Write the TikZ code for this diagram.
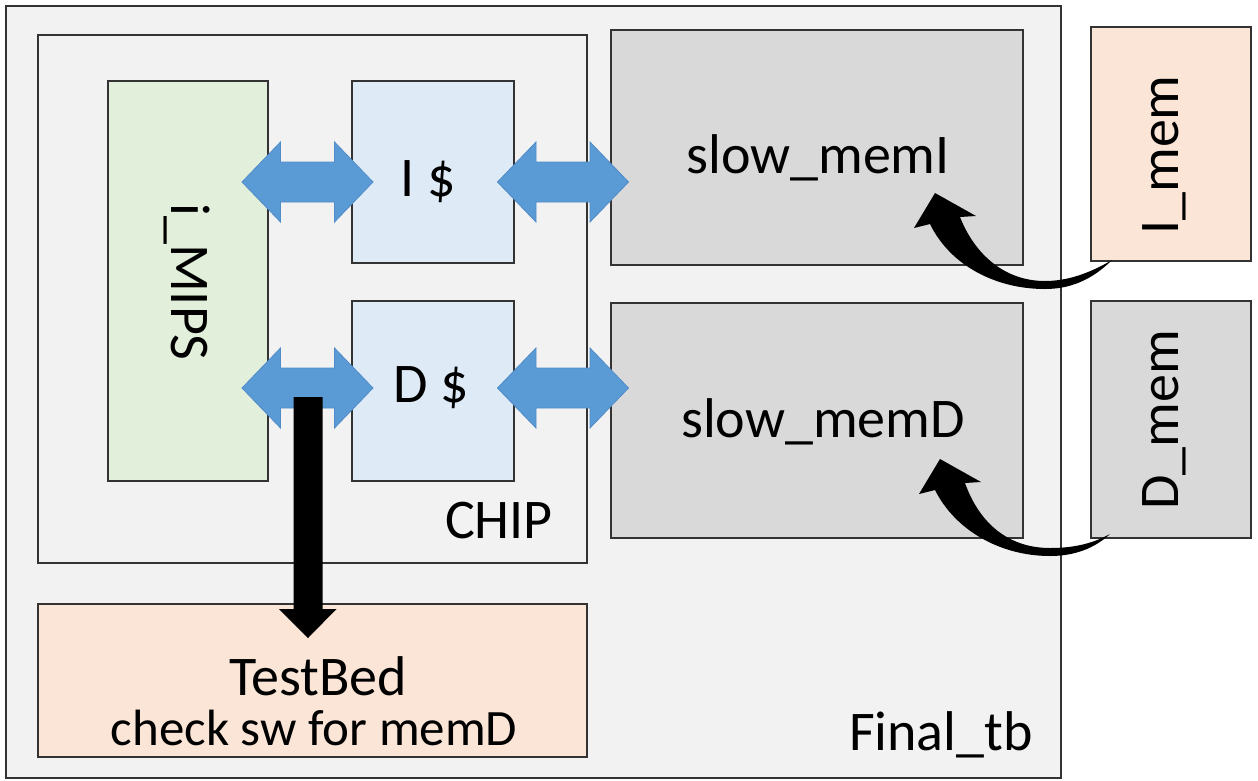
\documentclass[tikz,border=0pt]{standalone}
\usepackage{fontspec}
\setmainfont{Carlito}
\definecolor{bggray}{HTML}{F2F2F2}
\definecolor{memgray}{HTML}{D9D9D9}
\definecolor{mipsgreen}{HTML}{E2EFDA}
\definecolor{cacheblue}{HTML}{DEEBF7}
\definecolor{peach}{HTML}{FBE5D6}
\definecolor{arrowblue}{HTML}{5B9BD5}
\definecolor{arrowedge}{HTML}{4F8CC9}
\definecolor{edgegray}{HTML}{333333}
\begin{document}
\begin{tikzpicture}[x=1pt,y=-1pt,
  blk/.style={draw=edgegray, line width=2pt, inner sep=0pt, anchor=north west},
  lbl/.style={inner sep=0pt, font=\fontsize{56}{60}\selectfont},
  sublbl/.style={inner sep=0pt, font=\fontsize{51}{56}\selectfont},
  dbl/.pic={\fill[arrowblue, draw=arrowedge, line width=0.8pt]
     (-65.5,0) -- (-27,-40) -- (-27,-20) -- (27,-20) -- (27,-40) -- (65.5,0)
     -- (27,40) -- (27,20) -- (-27,20) -- (-27,40) -- cycle;}
]
\useasboundingbox (0,0) rectangle (1258,780);
\fill[white] (0,0) rectangle (1258,780);

% outer testbench
\node[blk, fill=bggray, minimum width=1055pt, minimum height=772pt] (final) at (5,5) {};
\node[lbl, anchor=base east] (finallbl) at (1033,750) {Final\_tb};

% chip
\node[blk, fill=bggray, minimum width=549pt, minimum height=528pt] (chip) at (37,34) {};
\node[lbl, anchor=base east] (chiplbl) at (553,538) {CHIP};

% mips and caches
\node[blk, fill=mipsgreen, minimum width=160pt, minimum height=400pt] (mips) at (107,80) {};
\node[lbl, rotate=-90] (mipslbl) at (187,282) {i\_MIPS};
\node[blk, fill=cacheblue, minimum width=162pt, minimum height=182pt] (icache) at (351,80) {};
\node[lbl] (icachelbl) at (428,182) {I \$};
\node[blk, fill=cacheblue, minimum width=162pt, minimum height=180pt] (dcache) at (351,300) {};
\node[lbl] (dcachelbl) at (431,388) {D \$};

% slow memories
\node[blk, fill=memgray, minimum width=412pt, minimum height=235pt] (smemi) at (610,29) {};
\node[lbl] (smemilbl) at (818,158) {slow\_memI};
\node[blk, fill=memgray, minimum width=412pt, minimum height=235pt] (smemd) at (610,302) {};
\node[lbl] (smemdlbl) at (823,422) {slow\_memD};

% external memories
\node[blk, fill=peach, minimum width=160pt, minimum height=234pt] (imem) at (1090,26) {};
\node[lbl, rotate=90] (imemlbl) at (1164,155) {I\_mem};
\node[blk, fill=memgray, minimum width=160pt, minimum height=237pt] (dmem) at (1090,300) {};
\node[lbl, rotate=90] (dmemlbl) at (1164,420) {D\_mem};

% testbed
\node[blk, fill=peach, minimum width=549pt, minimum height=153pt] (testbed) at (37,603) {};
\node[lbl] (tblbl) at (318,676) {TestBed};
\node[sublbl] (tbsub) at (314,728) {check sw for memD};

% bidirectional block arrows
\pic at (307.5,182) {dbl};
\pic at (563,182) {dbl};
\pic at (307.5,388) {dbl};
\pic at (563,388) {dbl};

% black tap arrow to testbed
\coordinate (tap) at (308,397);
\fill[black] (tap) ++(-14.5,0) -- ++(29,0) -- ++(0,212) -- ++(14,0)
  -- (308,638) -- (279,609) -- ++(14.5,0) -- cycle;

% curved arrows from external memories
\fill[black] (930,224) .. controls (950,265) and (995,289) .. (1045,289)
  .. controls (1070,289) and (1092,280) .. (1112,260)
  .. controls (1090,273) and (1068,281) .. (1045,281)
  .. controls (1005,281) and (975,255) .. (960,217)
  -- (976,216) -- (935,193) -- (914,228) -- cycle;
\fill[black] (935,490) .. controls (955,530) and (1000,556) .. (1050,556)
  .. controls (1075,556) and (1095,548) .. (1110,534)
  .. controls (1090,545) and (1070,548) .. (1050,548)
  .. controls (1010,548) and (980,525) .. (965,483)
  -- (981,482) -- (940,459) -- (919,494) -- cycle;
\end{tikzpicture}
\end{document}
